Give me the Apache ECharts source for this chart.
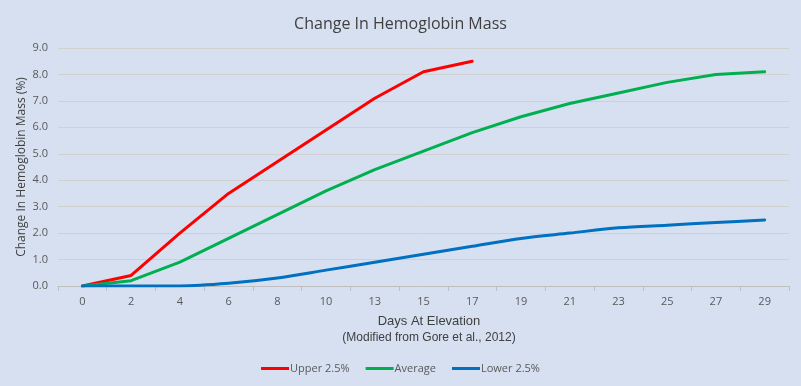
<!DOCTYPE html>
<html>
<head>
<meta charset="utf-8">
<script src="https://cdn.jsdelivr.net/npm/echarts@6/dist/echarts.min.js"></script>
<style>
html,body{margin:0;padding:0;background:#D6E0F1;}
#c{width:801px;height:386px;}
</style>
</head>
<body>
<div id="c"></div>
<script>
const days = ['0','2','4','6','8','10','13','15','17','19','21','23','25','27','29'];
const upper = [0, 0.4, 2.0, 3.5, 4.7, 5.9, 7.1, 8.1, 8.5, null, null, null, null, null, null];
const average = [0, 0.2, 0.9, 1.8, 2.7, 3.6, 4.4, 5.1, 5.8, 6.4, 6.9, 7.3, 7.7, 8.0, 8.1];
const lower = [0, 0, 0, 0.1, 0.3, 0.6, 0.9, 1.2, 1.5, 1.8, 2.0, 2.2, 2.3, 2.4, 2.5];
const yTicks = [0, 1, 2, 3, 4, 5, 6, 7, 8, 9];

const chart = echarts.init(document.getElementById('c'), null, {renderer: 'canvas'});
const labelFont = '"Open Sans", "Liberation Sans", sans-serif';
chart.setOption({
  backgroundColor: '#D6E0F1',
  animation: false,
  title: [
    {text: 'Change In Hemoglobin Mass', left: 'center', top: 11,
     textStyle: {fontFamily: labelFont, fontSize: 16, fontWeight: 'normal', color: '#404040'}},
    {text: 'Days At Elevation', left: 424, top: 310, textAlign: 'center',
     textStyle: {fontFamily: '"Liberation Sans", Arial, sans-serif', fontSize: 13, fontWeight: 'normal', color: '#404040'}},
    {text: '(Modified from Gore et al., 2012)', left: 424, top: 327, textAlign: 'center',
     textStyle: {fontFamily: '"Liberation Sans", Arial, sans-serif', fontSize: 12, fontWeight: 'normal', color: '#404040'}}
  ],
  grid: {left: 58, right: 12, top: 48, bottom: 100, containLabel: false},
  legend: {
    bottom: 7, left: 'center', itemWidth: 28, itemHeight: 3, itemGap: 16,
    icon: 'rect',
    textStyle: {fontFamily: labelFont, fontSize: 11, color: '#595959', padding: [0,0,0,-4]},
    data: ['Upper 2.5%', 'Average', 'Lower 2.5%']
  },
  xAxis: {
    type: 'category', data: days, boundaryGap: true,
    axisLine: {lineStyle: {color: '#BFBFBF', width: 1}},
    axisTick: {show: true, alignWithLabel: false, length: 5, lineStyle: {color: '#BFBFBF'}},
    axisLabel: {fontFamily: labelFont, fontSize: 11, color: '#595959', margin: 10},
    splitLine: {show: false}
  },
  yAxis: {
    type: 'value', min: 0, max: 9, interval: 1,
    name: 'Change In Hemoglobin Mass (%)', nameLocation: 'middle', nameGap: 30,
    nameMoveOverlap: false,
    nameTextStyle: {fontFamily: labelFont, fontSize: 12, color: '#404040'},
    axisLine: {show: false}, axisTick: {show: false},
    axisLabel: {fontFamily: labelFont, fontSize: 11, color: '#595959', margin: 10,
      formatter: v => yTicks.includes(v) ? v.toFixed(1) : ''},
    splitLine: {lineStyle: {color: '#D0D0D0', width: 1}}
  },
  series: [
    {name: 'Upper 2.5%', type: 'line', data: upper, symbol: 'none', smooth: false,
     itemStyle: {color: '#FF0000'}, lineStyle: {color: '#FF0000', width: 3, cap: 'round', join: 'round'}},
    {name: 'Average', type: 'line', data: average, symbol: 'none', smooth: false,
     itemStyle: {color: '#00B050'}, lineStyle: {color: '#00B050', width: 3, cap: 'round', join: 'round'}},
    {name: 'Lower 2.5%', type: 'line', data: lower, symbol: 'none', smooth: 0.3,
     itemStyle: {color: '#0070C0'}, lineStyle: {color: '#0070C0', width: 3, cap: 'round', join: 'round'}}
  ]
});
</script>
</body>
</html>
